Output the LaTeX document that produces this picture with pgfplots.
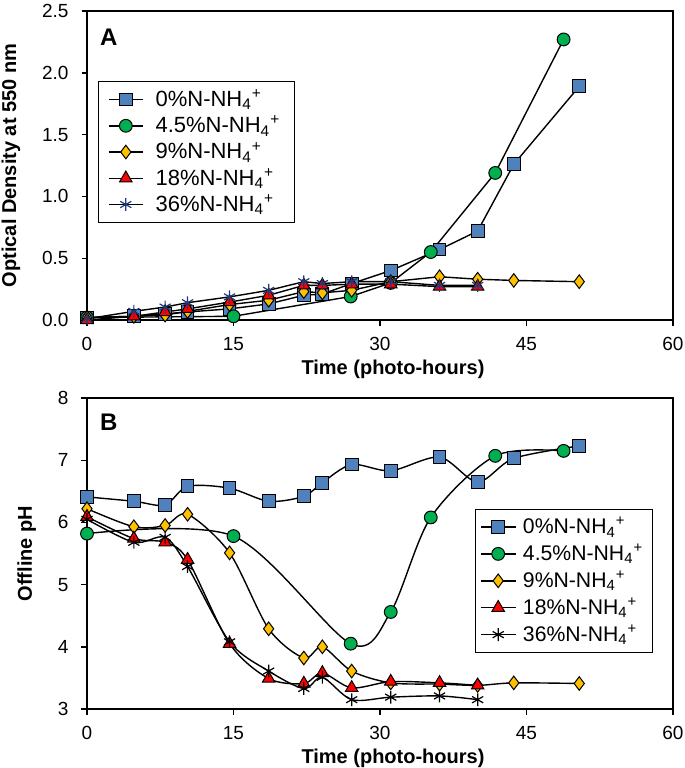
\documentclass[border=0pt]{standalone}
\usepackage{fontspec}
\setmainfont{Liberation Sans}
\usepackage{pgfplots}
\pgfplotsset{compat=1.18}

\definecolor{cblue}{RGB}{79,129,189}
\definecolor{cgreen}{RGB}{0,176,80}
\definecolor{cyellow}{RGB}{255,192,0}
\definecolor{cred}{RGB}{255,0,0}
\definecolor{cnavy}{RGB}{31,56,120}

\newcommand{\nh}[1]{#1\%N-NH\textsubscript{4}\textsuperscript{+}}

\pgfplotsset{
  panel/.style={
    scale only axis,
    width=293pt,
    xmin=0, xmax=60,
    xtick={0,15,30,45,60},
    tick align=outside,
    xtick pos=left, ytick pos=left,
    major tick length=2.75pt,
    axis line style={line width=0.7pt},
    every tick/.style={black,line width=0.7pt},
    /pgf/number format/assume math mode=true,
    tick label style={font=\fontsize{9.5}{11}\selectfont},
    xticklabel style={yshift=-2.5pt},
    yticklabel style={xshift=-3pt},
    label style={font=\bfseries\fontsize{10}{12}\selectfont},
    xlabel={Time (photo-hours)},
    xlabel style={xshift=6.5pt, yshift=2.5pt},
    ylabel style={yshift=4pt},
    legend style={draw=black, line width=0.5pt, fill=white,
      font=\fontsize{11}{13}\selectfont, cells={anchor=west},
      inner xsep=5pt, inner ysep=2pt, row sep=-0.8pt,
      /tikz/every odd column/.style={column sep=4pt}},
    legend image code/.code={
      \draw[mark repeat=2,mark phase=2,#1]
        plot coordinates {(0cm,0cm) (0.3cm,0cm) (0.6cm,0cm)};},
  },
  ln/.style={black, line width=0.7pt},
  sq/.style={ln, mark=square*, mark size=3.2pt, mark options={fill=cblue, draw=black, line width=0.5pt}},
  ci/.style={ln, mark=*, mark size=3.2pt, mark options={fill=cgreen, draw=black, line width=0.5pt}},
  di/.style={ln, mark=diamond*, mark size=3.4pt, mark options={fill=cyellow, draw=black, line width=0.5pt}},
  tr/.style={ln, mark=triangle*, mark size=3.6pt, mark options={fill=cred, draw=black, line width=0.5pt}},
  st/.style={ln, mark=asterisk, mark size=3.2pt, mark options={draw=#1, line width=0.6pt}},
}

\begin{document}
\begin{tikzpicture}
\path[use as bounding box] (0,0) rectangle (342.5pt,384pt);

% ---- panel A: optical density
\begin{axis}[panel,
  at={(43.5pt,224pt)}, anchor=south west,
  height=154.5pt,
  ymin=0, ymax=2.5,
  ytick={0,0.5,1,1.5,2,2.5},
  yticklabel style={/pgf/number format/.cd, fixed, fixed zerofill, precision=1},
  ylabel={Optical Density at 550 nm},
  legend style={at={(0.018,0.773)}, anchor=north west},
]
\addplot[sq] coordinates {
  (0,0.02) (4.8,0.03) (8,0.05) (10.3,0.065) (14.6,0.09) (18.6,0.13) (22.2,0.2)
  (24.1,0.21) (27.1,0.295) (31.1,0.40) (36.1,0.57) (40,0.72) (43.7,1.26) (50.4,1.89)};
\addplot[ci] coordinates {
  (0,0.02) (15,0.03) (27,0.19) (31.1,0.30) (35.2,0.55) (41.8,1.19) (48.8,2.27)};
\addplot[di] coordinates {
  (0,0.02) (4.8,0.03) (8,0.04) (10.3,0.07) (14.6,0.125) (18.6,0.16) (22.2,0.23)
  (24.1,0.22) (27.1,0.24) (31.1,0.31) (36.1,0.35) (40,0.33) (43.7,0.32) (50.4,0.31)};
\addplot[tr] coordinates {
  (0,0.0) (4.8,0.03) (8,0.065) (10.3,0.09) (14.6,0.145) (18.6,0.2) (22.2,0.28)
  (24.1,0.28) (27.1,0.29) (31.1,0.29) (36.1,0.27) (40,0.27)};
\addplot[st=cnavy] coordinates {
  (0,0.01) (4.8,0.07) (8,0.105) (10.3,0.14) (14.6,0.187) (18.6,0.24) (22.2,0.31)
  (24.1,0.295) (27.1,0.31) (31.1,0.31) (36.1,0.28) (40,0.28)};
\legend{\nh{0},\nh{4.5},\nh{9},\nh{18},\nh{36}}
\node[font=\bfseries\fontsize{12}{14}\selectfont] at (rel axis cs:0.037,0.915) {A};
\end{axis}

% ---- panel B: offline pH
\begin{axis}[panel,
  at={(43.5pt,29.5pt)}, anchor=south west,
  height=155.5pt,
  ymin=3, ymax=8,
  ytick={3,4,5,6,7,8},
  ylabel={Offline pH},
  legend style={at={(0.662,0.644)}, anchor=north west,
    font=\fontsize{10.6}{12.8}\selectfont, inner xsep=2.5pt, row sep=-0.3pt,
    /tikz/every odd column/.style={column sep=1.5pt}},
]
\addplot[sq, smooth] coordinates {
  (0,6.41) (4.8,6.34) (8,6.28) (10.3,6.58) (14.6,6.55) (18.6,6.34) (22.2,6.42)
  (24.1,6.64) (27.1,6.93) (31.1,6.83) (36.1,7.05) (40,6.65) (43.7,7.03) (50.4,7.23)};
\addplot[ci, smooth] coordinates {
  (0,5.82) (15,5.78) (27,4.05) (31.1,4.56) (35.2,6.08) (41.8,7.07) (48.8,7.15)};
\addplot[di, smooth] coordinates {
  (0,6.22) (4.8,5.93) (8,5.95) (10.3,6.13) (14.6,5.51) (18.6,4.29) (22.2,3.82)
  (24.1,4.0) (27.1,3.61) (31.1,3.42) (36.1,3.40) (40,3.38) (43.7,3.42) (50.4,3.41)};
\addplot[tr, smooth] coordinates {
  (0,6.09) (4.8,5.74) (8,5.68) (10.3,5.40) (14.6,4.05) (18.6,3.49) (22.2,3.41)
  (24.1,3.58) (27.1,3.34) (31.1,3.44) (36.1,3.42) (40,3.38)};
\addplot[st=black, smooth] coordinates {
  (0,6.05) (4.8,5.68) (8,5.76) (10.3,5.29) (14.6,4.08) (18.6,3.61) (22.2,3.33)
  (24.1,3.51) (27.1,3.15) (31.1,3.19) (36.1,3.21) (40,3.15)};
\legend{\nh{0},\nh{4.5},\nh{9},\nh{18},\nh{36}}
\node[font=\bfseries\fontsize{12}{14}\selectfont] at (rel axis cs:0.037,0.922) {B};
\end{axis}
\end{tikzpicture}
\end{document}
